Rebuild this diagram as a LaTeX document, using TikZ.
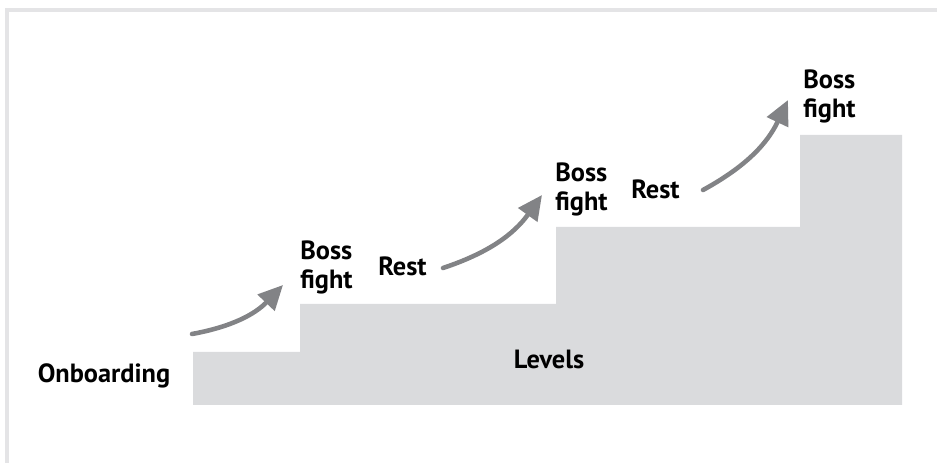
\documentclass[tikz,border=0pt]{standalone}
\usepackage{fontspec}
\setmainfont{PT Sans}
\usetikzlibrary{arrows.meta}
\definecolor{stepgray}{RGB}{218,219,221}
\definecolor{arrowgray}{RGB}{130,131,134}
\definecolor{framegray}{RGB}{228,228,230}
\begin{document}
\begin{tikzpicture}[x=0.02cm, y=0.02cm, font=\bfseries\fontsize{15}{16.5}\selectfont,
	lbl/.style={anchor=west, inner sep=0pt, align=left},
	climb/.style={draw=arrowgray, line width=2.6pt, line cap=round, -{Triangle[length=14pt, width=13pt]}}]
	\useasboundingbox (0,0) rectangle (937,463);
	\draw[color=framegray, line width=2pt] (7,0) -- (7,453) -- (937,453);
	\fill[stepgray] (193,58) -- (193,111) -- (300,111) -- (300,159) -- (556,159) -- (556,236)
	  -- (800,236) -- (800,328) -- (902,328) -- (902,58) -- cycle;
	\node (onb) at (104,87) {Onboarding};
	\node (lev) at (549,104) {Levels};
	\node[lbl] (boss1) at (300,196) {Boss\\fight};
	\node[lbl] (rest1) at (378,197) {Rest};
	\node[lbl] (boss2) at (555,274) {Boss\\fight};
	\node[lbl] (rest2) at (631,274) {Rest};
	\node[lbl] (boss3) at (803,367) {Boss\\fight};
	\coordinate (s1) at (192,129);
	\coordinate (t1) at (283,178);
	\coordinate (s2) at (443,195);
	\coordinate (t2) at (542,268);
	\coordinate (s3) at (703,273);
	\coordinate (t3) at (788,363);
	\draw[climb] (s1) to[bend right=18] (t1);
	\draw[climb] (s2) to[bend right=18] (t2);
	\draw[climb] (s3) to[bend right=18] (t3);
\end{tikzpicture}
\end{document}
